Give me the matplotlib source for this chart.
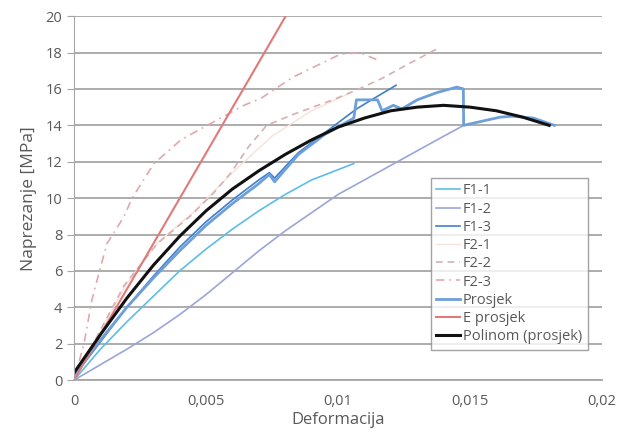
import matplotlib.pyplot as plt
from matplotlib.ticker import FuncFormatter

# F1 specimens
f1_1_x = [0, 0.001, 0.002, 0.003, 0.004, 0.005, 0.006, 0.007, 0.008, 0.009, 0.0106]
f1_1_y = [0, 1.7, 3.2, 4.6, 6.0, 7.2, 8.3, 9.3, 10.2, 11.0, 11.9]

f1_2_x = [0, 0.001, 0.002, 0.003, 0.004, 0.005, 0.006, 0.007, 0.008,
          0.009, 0.010, 0.011, 0.012, 0.013, 0.014, 0.0147]
f1_2_y = [0, 0.85, 1.7, 2.6, 3.6, 4.7, 5.9, 7.1, 8.2,
          9.2, 10.2, 11.0, 11.8, 12.6, 13.4, 13.95]

f1_3_x = [0, 0.001, 0.002, 0.003, 0.004, 0.005, 0.006, 0.007, 0.0074, 0.0076,
          0.0085, 0.0096, 0.0107, 0.0115, 0.0122]
f1_3_y = [0.2, 2.1, 4.0, 5.7, 7.3, 8.7, 9.9, 11.0, 11.4, 11.1,
          12.5, 13.7, 14.9, 15.6, 16.2]

# F2 specimens
f2_1_x = [0, 0.0009, 0.002, 0.0032, 0.0045, 0.006, 0.0075, 0.009, 0.0105]
f2_1_y = [0, 2.4, 5.3, 7.6, 9.2, 11.4, 13.4, 14.8, 15.8]

f2_2_x = [0, 0.0008, 0.0019, 0.00315, 0.0044, 0.0053, 0.00595, 0.0066, 0.0073,
          0.0083, 0.0098, 0.0108, 0.0117, 0.0127, 0.01375]
f2_2_y = [0, 2.2, 5.2, 7.5, 9.0, 10.3, 11.4, 12.8, 14.0,
          14.6, 15.4, 16.0, 16.6, 17.4, 18.2]

f2_3_x = [0, 0.00038, 0.00068, 0.00095, 0.00125, 0.0019, 0.0022, 0.00303, 0.00405,
          0.0053, 0.00644, 0.0071, 0.0083, 0.00894, 0.01008, 0.01083, 0.01148]
f2_3_y = [0, 2.0, 4.4, 5.9, 7.5, 9.0, 10.0, 11.9, 13.2,
          14.2, 15.1, 15.5, 16.65, 17.1, 17.9, 18.0, 17.6]

# average curve
avg_x = [0, 0.001, 0.002, 0.003, 0.004, 0.005, 0.006, 0.007, 0.0074, 0.0076,
         0.0085, 0.0095, 0.0106, 0.0107, 0.0115, 0.01167, 0.0121, 0.01242,
         0.013, 0.01375, 0.0145, 0.01475, 0.01476, 0.01614, 0.0166, 0.0174, 0.0182]
avg_y = [0.3, 2.2, 4.0, 5.6, 7.1, 8.5, 9.7, 10.8, 11.3, 10.9,
         12.4, 13.5, 14.4, 15.4, 15.4, 14.8, 15.1, 14.9,
         15.4, 15.8, 16.1, 16.0, 14.0, 14.45, 14.5, 14.4, 14.0]

# modulus line
e_x = [0, 0.0081]
e_y = [0, 20.2]

# polynomial trendline
poly_x = [0, 0.001, 0.002, 0.003, 0.004, 0.005, 0.006, 0.007, 0.008, 0.009,
          0.010, 0.011, 0.012, 0.013, 0.014, 0.015, 0.016, 0.017, 0.018]
poly_y = [0.4, 2.5, 4.5, 6.3, 7.9, 9.3, 10.5, 11.5, 12.4, 13.2,
          13.9, 14.4, 14.8, 15.0, 15.1, 15.0, 14.8, 14.45, 14.0]

plt.rcParams['font.family'] = ['Open Sans', 'DejaVu Sans']
txt = '#595959'

fig = plt.figure(figsize=(6.32, 4.36), dpi=100)
ax = fig.add_axes([0.117, 0.128, 0.8355, 0.835])

ax.plot(f1_1_x, f1_1_y, color='#5cbde6', lw=1.2, label='F1-1')
ax.plot(f1_2_x, f1_2_y, color='#9aa6d8', lw=1.2, label='F1-2')
ax.plot(f1_3_x, f1_3_y, color='#3f7fcc', lw=1.2, label='F1-3')
ax.plot(f2_1_x, f2_1_y, color='#f6e2da', lw=1.0, label='F2-1')
ax.plot(f2_2_x, f2_2_y, color='#d6b0b2', lw=1.2, ls=(0, (4, 3)), label='F2-2')
ax.plot(f2_3_x, f2_3_y, color='#e0a8ae', lw=1.2, ls=(0, (5, 3, 1, 3)), label='F2-3')
ax.plot(avg_x, avg_y, color='#6d9fd9', lw=2.0, label='Prosjek')
ax.plot(e_x, e_y, color='#e07a7a', lw=1.5, label='E prosjek')
ax.plot(poly_x, poly_y, color='#111111', lw=2.2, label='Polinom (prosjek)')

ax.set_xlim(0, 0.02)
ax.set_ylim(0, 20)
ax.set_xticks([0, 0.005, 0.01, 0.015, 0.02])
ax.set_yticks(range(0, 21, 2))
ax.xaxis.set_major_formatter(FuncFormatter(lambda v, p: ('%g' % v).replace('.', ',')))
ax.grid(axis='y', color='#a6a6a6', lw=1.3)
ax.set_axisbelow(True)
for s in ['top', 'right']:
    ax.spines[s].set_visible(False)
ax.spines['left'].set_color('#a6a6a6')
ax.spines['bottom'].set_color('#a6a6a6')
ax.spines['bottom'].set_linewidth(1.3)
ax.tick_params(axis='y', length=5, color='#a6a6a6', labelcolor=txt, labelsize=10.5)
ax.tick_params(axis='x', length=0, labelcolor=txt, labelsize=10.5, pad=10)

ax.set_xlabel('Deformacija', color=txt, fontsize=12, labelpad=2)
ax.set_ylabel('Naprezanje [MPa]', color=txt, fontsize=12.5, labelpad=6)

leg = ax.legend(loc='lower right', bbox_to_anchor=(0.987, 0.063), fontsize=10.5,
                frameon=True, fancybox=False, handlelength=1.6, handletextpad=0.2,
                labelspacing=0.22, borderpad=0.4, labelcolor=txt)
leg.get_frame().set_edgecolor('#8c8c8c')
leg.get_frame().set_linewidth(1.0)

fig.savefig('out.png', dpi=100)
